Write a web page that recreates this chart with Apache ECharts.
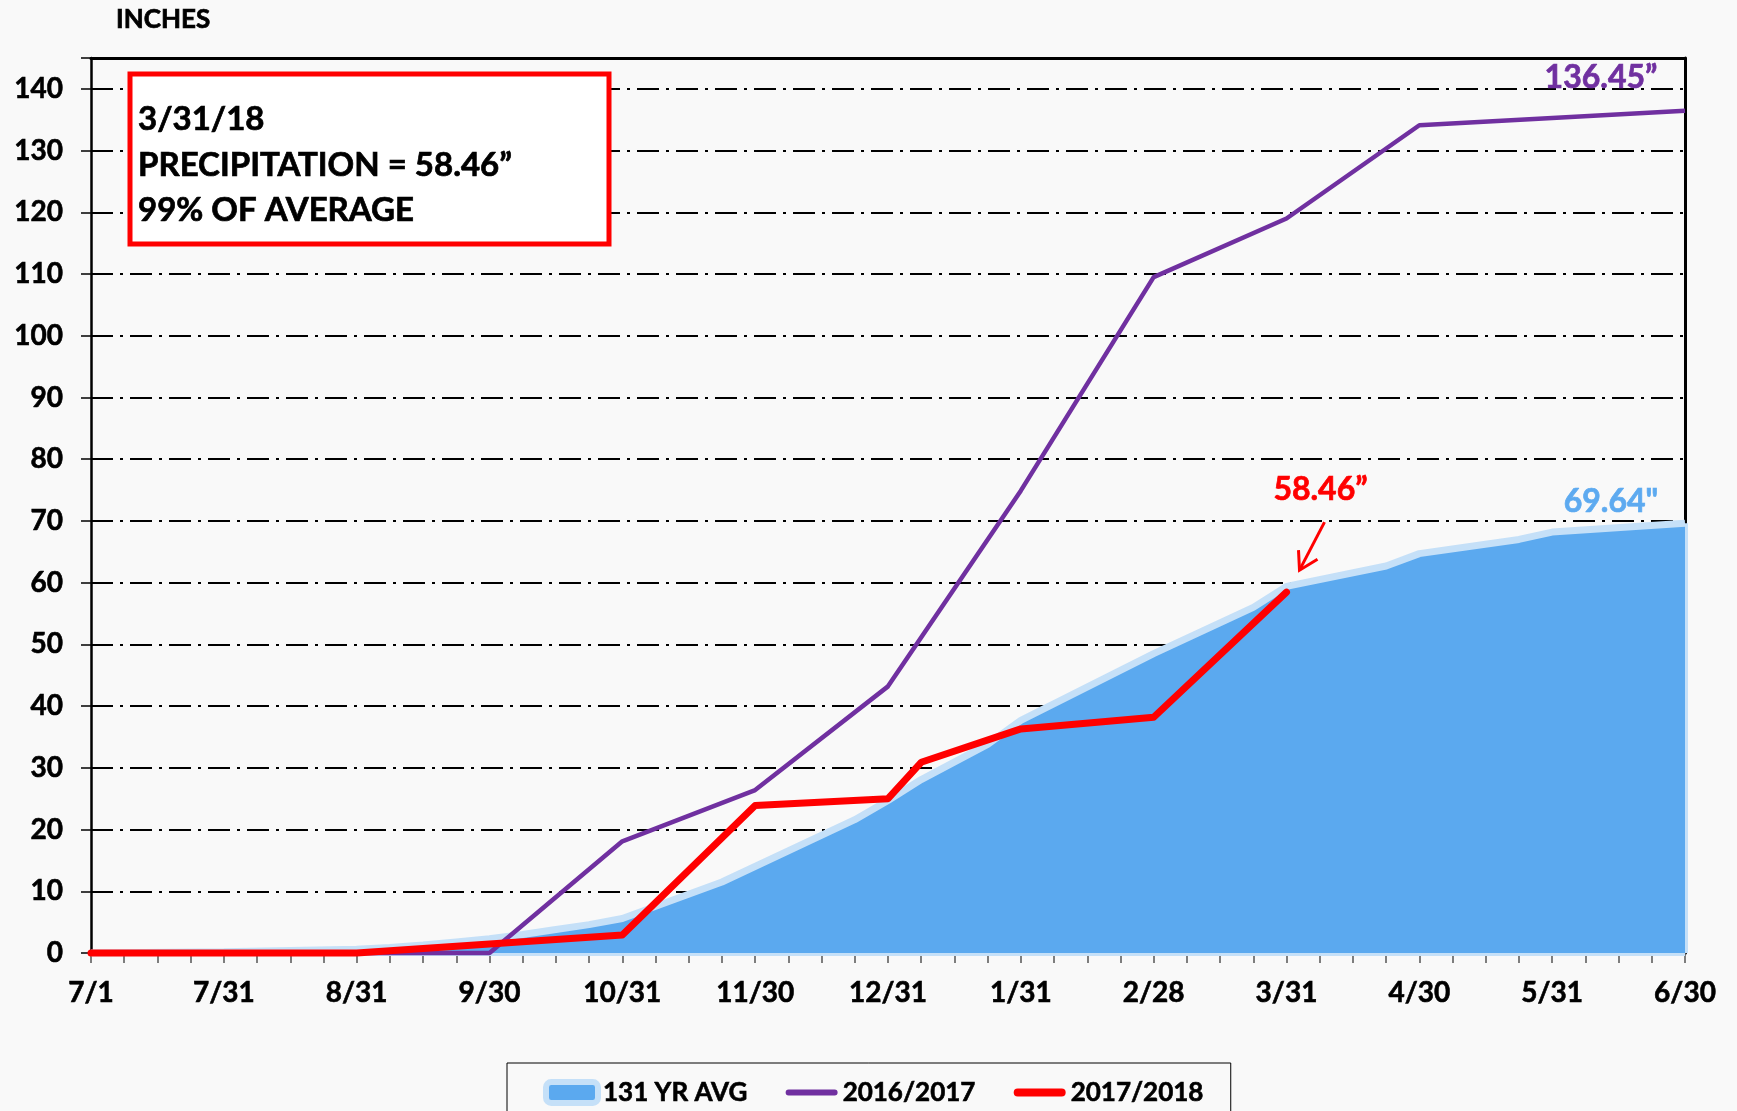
<!DOCTYPE html>
<html>
<head>
<meta charset="utf-8">
<title>Cumulative precipitation</title>
<script src="https://cdn.jsdelivr.net/npm/echarts@6/dist/echarts.min.js"></script>
<style>
  html, body { margin: 0; padding: 0; background: #f9f9f9; }
  #chart { width: 1737px; height: 1111px; }
</style>
</head>
<body>
<div id="chart"></div>
<script>
// x axis: 49 weekly slots (4 per month), month-end labels on every 4th
const tickLabels = ['7/1', '7/31', '8/31', '9/30', '10/31', '11/30', '12/31', '1/31', '2/28', '3/31', '4/30', '5/31', '6/30'];
const weeks = Array.from({ length: 49 }, (_, i) => 'w' + i);

// inches, null = no point (line runs straight to the next one)
const avg131 = [
  0, null, null, null, 0.2, null, null, null,
  0.6, 0.9, 1.3, 1.8, 2.3, 3.0, 3.8, 4.6,
  5.6, null, null, 11.5, null, null, null, 21.6,
  24.7, 28.1, null, 33.8, 37.7, null, null, null,
  48.5, null, null, 56.0, 59.4, null, null, 62.7,
  64.7, null, null, 67.0, 68.2, null, null, null,
  69.64
];
const wy1617 = [
  0, null, null, null, null, null, null, null,
  null, null, null, null, 0, null, null, null,
  18.1, null, null, null, 26.4, null, null, null,
  43.2, null, null, null, 74.9, null, null, null,
  109.5, null, null, null, 119.0, null, null, null,
  134.1, null, null, null, null, null, null, null,
  136.45
];
const wy1718 = [
  0, null, null, null, null, null, null, null,
  0, null, null, null, null, null, null, null,
  2.9, null, null, null, 23.9, null, null, null,
  25.0, 30.9, null, null, 36.3, null, null, null,
  38.2, null, null, null, 58.46, null, null, null,
  null, null, null, null, null, null, null, null,
  null
];

const FONT = 'Lato, "Open Sans", sans-serif';
const BLUE = '#5BA9EF', BLUE_EDGE = '#C5E0F8', PURPLE = '#7030A0', RED = '#FF0000';

// bold text, thickened a bit to look like the heavy original face
const boldText = (size, color) => ({
  color: color || '#000',
  fontFamily: FONT,
  fontWeight: 'bold',
  fontSize: size,
  textBorderColor: color || '#000',
  textBorderWidth: 0.6
});

function lastIdx(arr) {
  for (let i = arr.length - 1; i >= 0; i--) if (arr[i] != null) return i;
  return -1;
}

// line-shaped legend icon, kept inside a 52x21 box
function lineIcon(h) {
  const r = h / 2, y0 = (21 - h) / 2, w = 52 - h;
  return 'path://M' + r + ',' + y0 + 'h' + w + 'a' + r + ',' + r + ' 0 0 1 0,' + h +
    'h' + (-w) + 'a' + r + ',' + r + ' 0 0 1 0,' + (-h) + 'z' +
    'M0,0h0.01v0.01h-0.01z M51.99,20.99h0.01v0.01h-0.01z';
}

const aEnd = lastIdx(avg131);

const chart = echarts.init(document.getElementById('chart'));
const option = {
  backgroundColor: '#f9f9f9',
  animation: false,
  grid: { left: 91, right: 52, top: 58, bottom: 158 },
  legend: {
    left: 507,
    top: 1063,
    padding: [16, 27, 40, 36],
    itemGap: 38,
    itemWidth: 52,
    itemHeight: 21,
    borderColor: '#000',
    borderWidth: 1,
    selectedMode: false,
    textStyle: boldText(26),
    data: [
      { name: '131 YR AVG', icon: 'roundRect', itemStyle: { color: BLUE, borderColor: BLUE_EDGE, borderWidth: 6 } },
      { name: '2016/2017', icon: lineIcon(6), itemStyle: { color: PURPLE, borderWidth: 0 } },
      { name: '2017/2018', icon: lineIcon(8), itemStyle: { color: RED, borderWidth: 0 } }
    ]
  },
  xAxis: [
    {
      type: 'category',
      data: weeks,
      boundaryGap: false,
      axisLine: { lineStyle: { color: '#555', width: 1.5 } },
      axisTick: { interval: 0, length: 10, lineStyle: { color: '#555', width: 1.5 } },
      axisLabel: Object.assign(boldText(28), {
        interval: 3,
        margin: 26,
        formatter: (v, i) => tickLabels[i / 4] || ''
      }),
      splitLine: { show: false }
    },
    {
      type: 'category',
      data: weeks,
      boundaryGap: false,
      position: 'top',
      axisLine: { onZero: false, lineStyle: { color: '#000', width: 3 } },
      axisTick: { show: false },
      axisLabel: { show: false }
    }
  ],
  yAxis: [
    {
      type: 'value',
      min: 0,
      max: 145,
      interval: 10,
      axisLine: { show: true, lineStyle: { color: '#000', width: 2.5 } },
      axisTick: { show: true, length: 10, lineStyle: { color: '#000', width: 1.5 } },
      axisLabel: Object.assign(boldText(28), {
        margin: 28,
        formatter: v => (v > 140 ? '' : v)
      }),
      splitLine: { lineStyle: { color: '#000', width: 2, type: [22, 7, 3, 7] } }
    },
    {
      type: 'value',
      min: 0,
      max: 145,
      position: 'right',
      axisLine: { show: true, onZero: false, lineStyle: { color: '#000', width: 3 } },
      axisTick: { show: false },
      axisLabel: { show: false },
      splitLine: { show: false }
    }
  ],
  series: [
    {
      name: '131 YR AVG',
      type: 'line',
      data: avg131,
      connectNulls: true,
      symbol: 'none',
      z: 2,
      emphasis: { disabled: true },
      itemStyle: { color: BLUE },
      lineStyle: { color: BLUE_EDGE, width: 7 },
      areaStyle: { color: BLUE, opacity: 1 },
      markLine: {
        z: 2,
        silent: true,
        symbol: 'none',
        label: { show: false },
        lineStyle: { color: BLUE_EDGE, width: 6, type: 'solid' },
        data: [
          [{ coord: [aEnd, 0] }, { coord: [aEnd, avg131[aEnd]] }],
          [{ coord: [0, 0] }, { coord: [aEnd, 0] }]
        ]
      }
    },
    {
      name: '2016/2017',
      type: 'line',
      data: wy1617,
      connectNulls: true,
      clip: false,
      symbol: 'none',
      z: 3,
      emphasis: { disabled: true },
      itemStyle: { color: PURPLE },
      lineStyle: { color: PURPLE, width: 4.5 }
    },
    {
      name: '2017/2018',
      type: 'line',
      data: wy1718,
      connectNulls: true,
      clip: false,
      symbol: 'none',
      z: 4,
      emphasis: { disabled: true },
      itemStyle: { color: RED },
      lineStyle: { color: RED, width: 7, cap: 'round', join: 'round' }
    }
  ]
};
chart.setOption(option);

// annotations anchored on the series end points
function addNotes() {
  const px = (i, v) => chart.convertToPixel({ seriesIndex: 0 }, [i, v]);
  const pEnd = px(lastIdx(wy1617), wy1617[lastIdx(wy1617)]);
  const aPt = px(aEnd, avg131[aEnd]);
  const rPt = px(lastIdx(wy1718), wy1718[lastIdx(wy1718)]);
  const txt = (x, y, text, fill, size, align) => ({
    type: 'text', x: x, y: y, z: 10,
    style: {
      text: text, fill: fill, font: 'bold ' + size + 'px ' + FONT,
      stroke: fill, lineWidth: 0.7,
      align: align || 'center', verticalAlign: 'middle'
    }
  });
  chart.setOption({
    graphic: [
      txt(116, 20, 'INCHES', '#000', 26, 'left'),
      {
        type: 'rect', z: 10,
        shape: { x: 130, y: 74, width: 479, height: 170 },
        style: { fill: '#fff', stroke: RED, lineWidth: 5 }
      },
      txt(138, 119, '3/31/18', '#000', 33, 'left'),
      txt(138, 165, 'PRECIPITATION = 58.46\u201D', '#000', 33, 'left'),
      txt(138, 210, '99% OF AVERAGE', '#000', 33, 'left'),
      txt(pEnd[0] - 84, pEnd[1] - 33, '136.45\u201D', PURPLE, 32),
      txt(aPt[0] - 74, aPt[1] - 21, '69.64"', '#5DAAF0', 32),
      txt(rPt[0] + 34, rPt[1] - 102, '58.46\u201D', RED, 32),
      {
        type: 'polyline', z: 10,
        shape: { points: [[rPt[0] + 38, rPt[1] - 70], [rPt[0] + 13, rPt[1] - 22]] },
        style: { stroke: RED, lineWidth: 3, fill: null }
      },
      {
        type: 'polyline', z: 10,
        shape: { points: [[rPt[0] + 12, rPt[1] - 42], [rPt[0] + 13, rPt[1] - 22], [rPt[0] + 31, rPt[1] - 33]] },
        style: { stroke: RED, lineWidth: 3, fill: null }
      }
    ]
  });
}
addNotes();

window.onresize = () => {
  chart.resize();
  addNotes();
};
</script>
</body>
</html>
